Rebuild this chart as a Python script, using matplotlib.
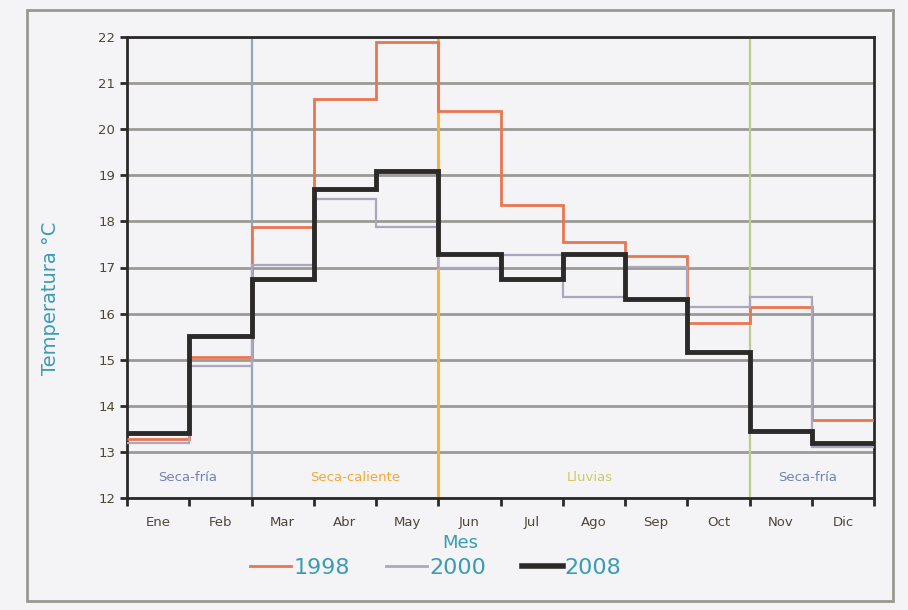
import numpy as np
import matplotlib
matplotlib.use("Agg")
import matplotlib.pyplot as plt
from matplotlib.patches import Rectangle

meses = ["Ene", "Feb", "Mar", "Abr", "May", "Jun", "Jul", "Ago", "Sep", "Oct", "Nov", "Dic"]
t1998 = [13.28, 15.05, 17.87, 20.65, 21.9, 20.4, 18.35, 17.55, 17.25, 15.8, 16.15, 13.7]
t2000 = [13.2, 14.87, 17.05, 18.48, 17.87, 16.98, 17.28, 16.35, 17.02, 16.15, 16.35, 13.1]
t2008 = [13.4, 15.52, 16.74, 18.7, 19.1, 17.3, 16.74, 17.3, 16.32, 15.17, 13.46, 13.2]

estaciones = ["Seca-fría", "Seca-caliente", "Lluvias", "Seca-fría"]
est_x = [0.98, 3.66, 7.44, 10.94]
est_col = ["#6f82b8", "#f2a933", "#c9cc5c", "#6f82b8"]
cortes = [2, 5, 10]
cortes_col = ["#8fa7b8", "#f5b53a", "#bccb8e"]

fig = plt.figure(figsize=(9.08, 6.10), dpi=100)
fig.patch.set_facecolor("#f4f3f6")
fig.add_artist(Rectangle((27/908, 1 - 601/610), 866/908, 591/610, transform=fig.transFigure,
                         fill=False, ec="#9a9890", lw=2))
ax = fig.add_axes([127/908, 1 - 498/610, 747/908, 461/610])
ax.set_facecolor("#f4f3f6")

edges = np.arange(len(meses) + 1)
for y in range(12, 23):
    ax.axhline(y, color="#9b9a96", lw=2, zorder=1)
for x, c in zip(cortes, cortes_col):
    ax.axvline(x, color=c, lw=1.6 if x != 5 else 2.2, zorder=2)

ax.stairs(t1998, edges, color="#e8764f", lw=2, baseline=None, zorder=3)
ax.stairs(t2000, edges, color="#a9a8bf", lw=1.6, baseline=None, zorder=3)
ax.stairs(t2008, edges, color="#2b2a28", lw=3.5, baseline=None, zorder=4)

for lbl, x, c in zip(estaciones, est_x, est_col):
    ax.text(x, 12.45, lbl, color=c, fontsize=9.5, ha="center", va="center", zorder=5)

ax.set_xlim(0, 12)
ax.set_ylim(12, 22)
ax.set_xticks(edges)
ax.set_xticklabels([])
ax.set_xticks(edges[:-1] + 0.5, minor=True)
ax.set_xticklabels(meses, minor=True)
ax.tick_params(axis="x", which="minor", length=0, pad=13, labelsize=9.5, labelcolor="#4e4636")
ax.tick_params(axis="x", which="major", length=6, width=2, color="#2b2a28")
ax.set_yticks(range(12, 23))
ax.tick_params(axis="y", length=5, width=2, color="#2b2a28", labelsize=9.5, labelcolor="#4e4636")
for s in ax.spines.values():
    s.set_color("#2b2a28")
    s.set_linewidth(2)

ax.set_ylabel("Temperatura °C", color="#3a9cb3", fontsize=14)
ax.yaxis.set_label_coords(-0.09, 0.434)
ax.set_xlabel("Mes", color="#3a9cb3", fontsize=13, va="center")
ax.xaxis.set_label_coords(0.446, -0.098)

hs = [plt.Line2D([], [], color="#e8764f", lw=2),
      plt.Line2D([], [], color="#a9a8bf", lw=2),
      plt.Line2D([], [], color="#2b2a28", lw=4)]
leg = fig.legend(hs, ["1998", "2000", "2008"], loc="center", bbox_to_anchor=(436/908, 1 - 568/610),
                 ncol=3, frameon=False, fontsize=16, handlelength=1.85, handletextpad=0.1,
                 columnspacing=1.6)
for t in leg.get_texts():
    t.set_color("#3a9cb3")

fig.savefig("out.png", dpi=100, facecolor=fig.get_facecolor())
